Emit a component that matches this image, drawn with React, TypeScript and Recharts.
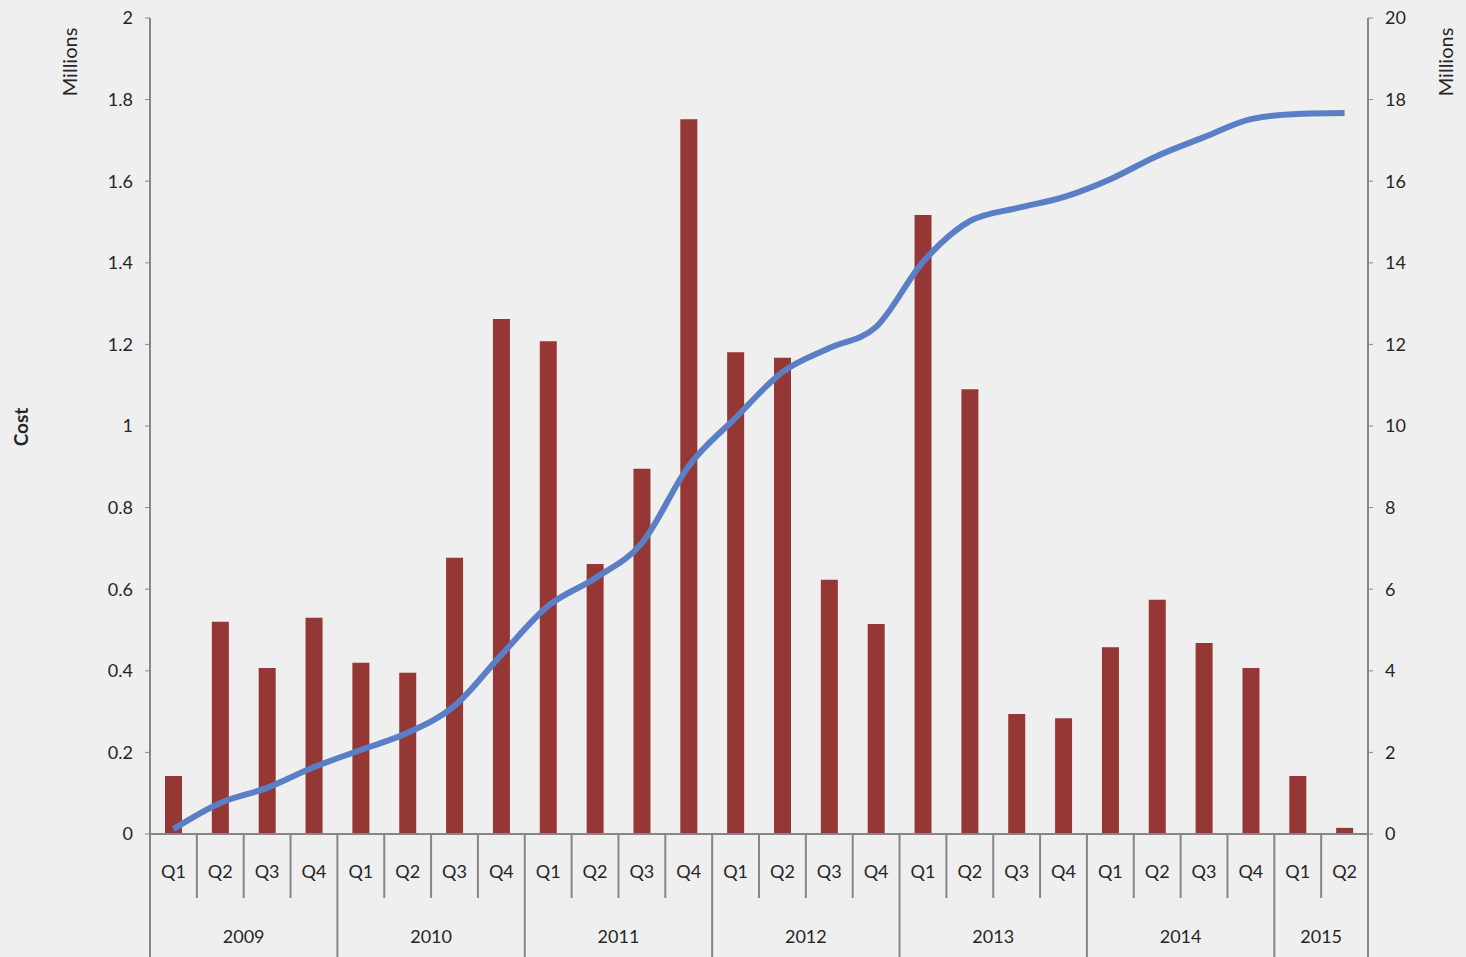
import React from 'react';
import { ComposedChart, Bar, Line, XAxis, YAxis } from 'recharts';

const QUARTERS = ['Q1','Q2','Q3','Q4','Q1','Q2','Q3','Q4','Q1','Q2','Q3','Q4','Q1','Q2','Q3','Q4','Q1','Q2','Q3','Q4','Q1','Q2','Q3','Q4','Q1','Q2'];
const YEARS = ['2009','2009','2009','2009','2010','2010','2010','2010','2011','2011','2011','2011','2012','2012','2012','2012','2013','2013','2013','2013','2014','2014','2014','2014','2015','2015'];
const COST = [0.142,0.52,0.407,0.53,0.42,0.395,0.677,1.262,1.208,0.662,0.895,1.752,1.181,1.167,0.623,0.515,1.517,1.09,0.294,0.284,0.458,0.574,0.468,0.407,0.142,0.015];
const CUMULATIVE = [0.12,0.76,1.13,1.64,2.06,2.48,3.14,4.39,5.59,6.27,7.13,9.02,10.2,11.32,11.91,12.43,14.02,15.02,15.34,15.61,16.05,16.62,17.08,17.52,17.65,17.67];
const LEFT_TICKS = [0,0.2,0.4,0.6,0.8,1,1.2,1.4,1.6,1.8,2];
const RIGHT_TICKS = [0,2,4,6,8,10,12,14,16,18,20];

const data = QUARTERS.map((q, i) => ({ key: i, quarter: q, year: YEARS[i], cost: COST[i], cum: CUMULATIVE[i] }));

const W = 1466;
const H = 957;
const LEFT_W = 150;
const RIGHT_W = 98;
const TOP = 18;
const XAXIS_H = 123;
const PLOT_W = W - LEFT_W - RIGHT_W;
const N = QUARTERS.length;
const FONT = 'Lato, "Open Sans", sans-serif';
const TEXT = '#262626';
const AXIS = '#868686';

function QuarterTick(props: any) {
  const { x, y, payload } = props;
  const i: number = payload.index ?? props.index;
  const band = PLOT_W / N;
  const yr = YEARS[i];
  const isYearEnd = i === N - 1 || YEARS[i + 1] !== yr;
  const isYearStart = i === 0 || YEARS[i - 1] !== yr;
  let count = 0;
  for (let k = 0; k < N; k++) if (YEARS[k] === yr) count++;
  const left = x - band / 2;
  const right = x + band / 2;
  return (
    <g>
      <text x={x} y={y + 39} textAnchor="middle" dominantBaseline="middle" fontSize={18} fontFamily={FONT} fill={TEXT}>
        {QUARTERS[i]}
      </text>
      {i === 0 && <line x1={left} x2={left} y1={y} y2={y + XAXIS_H} stroke={AXIS} strokeWidth={2} />}
      <line x1={right} x2={right} y1={y} y2={isYearEnd ? y + XAXIS_H : y + 64} stroke={AXIS} strokeWidth={2} />
      {isYearStart && (
        <text x={left + (count * band) / 2} y={y + 104} textAnchor="middle" dominantBaseline="middle" fontSize={18} fontFamily={FONT} fill={TEXT}>
          {yr}
        </text>
      )}
    </g>
  );
}

export default function App() {
  return (
    <div style={{ position: 'absolute', left: 0, top: 0, width: W, height: H, background: '#efefef', overflow: 'hidden' }}>
      <ComposedChart width={W} height={H} data={data} margin={{ top: TOP, right: 0, bottom: 0, left: 0 }}>
        <XAxis
          dataKey="key"
          xAxisId="x"
          height={XAXIS_H}
          tickSize={0}
          tickMargin={0}
          interval={0}
          tick={<QuarterTick />}
          axisLine={{ stroke: AXIS, strokeWidth: 2 }}
          tickLine={false}
        />
        <YAxis
          yAxisId="left"
          orientation="left"
          width={LEFT_W}
          domain={[0, 2]}
          ticks={LEFT_TICKS}
          tickSize={5}
          tickMargin={12}
          axisLine={{ stroke: AXIS, strokeWidth: 2 }}
          tickLine={{ stroke: AXIS }}
          tick={{ fontSize: 18, fontFamily: FONT, fill: TEXT }}
        />
        <YAxis
          yAxisId="right"
          orientation="right"
          width={RIGHT_W}
          domain={[0, 20]}
          ticks={RIGHT_TICKS}
          tickSize={5}
          tickMargin={12}
          axisLine={{ stroke: AXIS, strokeWidth: 2 }}
          tickLine={{ stroke: AXIS }}
          tick={{ fontSize: 18, fontFamily: FONT, fill: TEXT }}
        />
        <Bar dataKey="cost" xAxisId="x" yAxisId="left" fill="#953735" barSize={17} isAnimationActive={false} />
        <Line dataKey="cum" xAxisId="x" yAxisId="right" type="monotone" stroke="#5a7fc6" strokeWidth={6} dot={false} isAnimationActive={false} />
      </ComposedChart>
      <div style={{ position: 'absolute', left: 69, top: 62, transform: 'translate(-50%, -50%) rotate(-90deg)', fontFamily: FONT, fontSize: 20, color: TEXT, whiteSpace: 'nowrap' }}>Millions</div>
      <div style={{ position: 'absolute', left: 1445, top: 62, transform: 'translate(-50%, -50%) rotate(-90deg)', fontFamily: FONT, fontSize: 20, color: TEXT, whiteSpace: 'nowrap' }}>Millions</div>
      <div style={{ position: 'absolute', left: 20, top: 427, transform: 'translate(-50%, -50%) rotate(-90deg)', fontFamily: FONT, fontSize: 19, fontWeight: 'bold', color: TEXT, whiteSpace: 'nowrap' }}>Cost</div>
    </div>
  );
}
